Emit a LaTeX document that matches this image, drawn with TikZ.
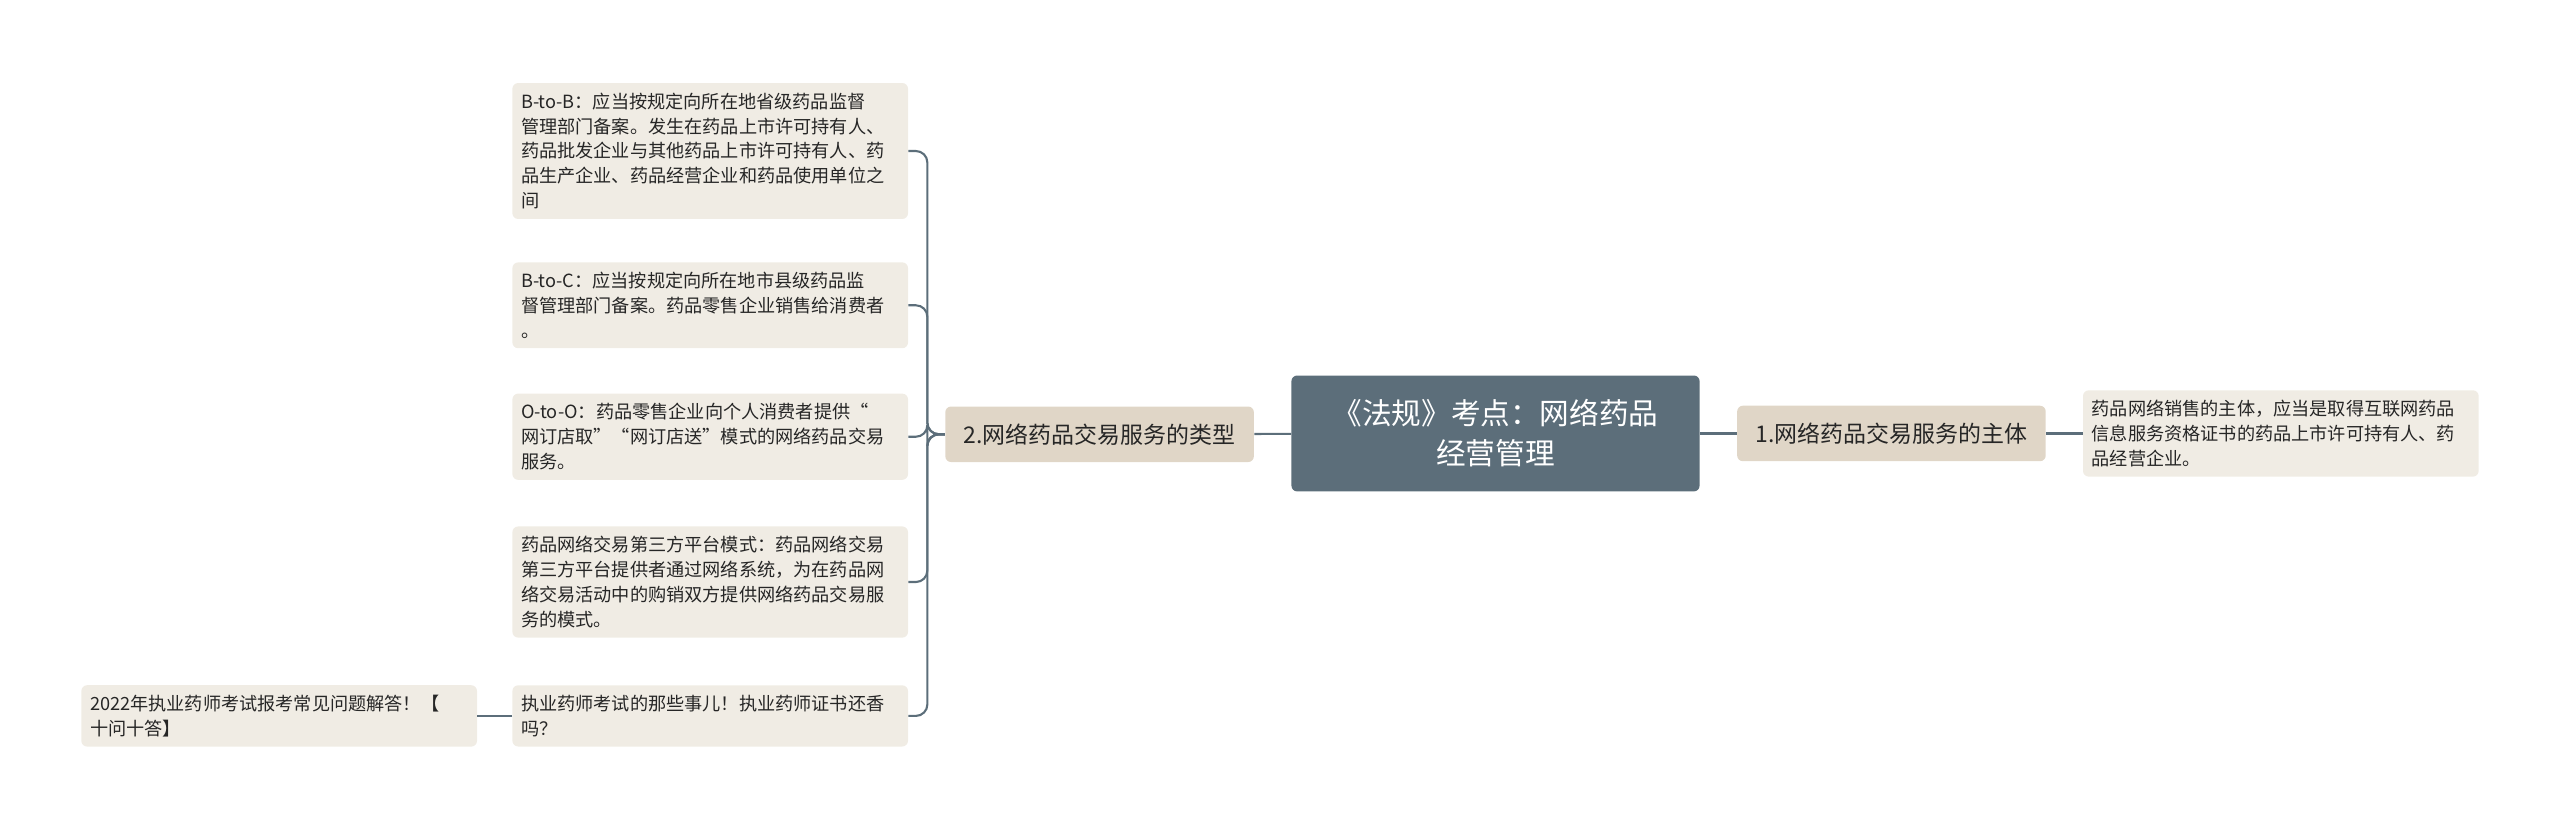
\documentclass[tikz,border=0pt]{standalone}
\usepackage{fontspec}
\setmainfont{Noto Sans CJK SC}
\begin{document}
\begin{tikzpicture}[
  leaf/.style={fill=leafc, rounded corners=3pt, align=left, text width=6.95cm, inner xsep=0.16cm, inner ysep=0.18cm, font=\fontsize{9.5}{13}\selectfont, text=black!85},
  lone/.style={fill=lonec, rounded corners=3pt, minimum width=5.67cm, minimum height=1.02cm, font=\fontsize{12}{15}\selectfont, text=black!85},
  line/.style={draw=linec, line width=1.1pt},
]
\definecolor{leafc}{HTML}{F0ECE4}
\definecolor{lonec}{HTML}{E0D6C7}
\definecolor{rootc}{HTML}{5C6E7A}
\definecolor{linec}{HTML}{5C6E7A}
\useasboundingbox (0,0) rectangle (47.04,15.27);
\node[fill=rootc, rounded corners=3pt, minimum width=7.5cm, minimum height=2.13cm, align=center, text=white, font=\fontsize{15.5}{21}\selectfont] (root) at (27.48,7.305) {《法规》考点：网络药品\\经营管理};
\node[lone] (r1) at (34.755,7.305) {1.网络药品交易服务的主体};
\node[leaf] (rl) at (41.91,7.305) {药品网络销售的主体，应当是取得互联网药品\\信息服务资格证书的药品上市许可持有人、药\\品经营企业。};
\node[lone] (l1) at (20.205,7.29) {2.网络药品交易服务的类型};
\node[leaf] (a) at (13.05,12.495) {B-to-B：应当按规定向所在地省级药品监督\\管理部门备案。发生在药品上市许可持有人、\\药品批发企业与其他药品上市许可持有人、药\\品生产企业、药品经营企业和药品使用单位之\\间};
\node[leaf] (b) at (13.05,9.66) {B-to-C：应当按规定向所在地市县级药品监\\督管理部门备案。药品零售企业销售给消费者\\。};
\node[leaf] (c) at (13.05,7.245) {O-to-O：药品零售企业向个人消费者提供“\\网订店取”“网订店送”模式的网络药品交易\\服务。};
\node[leaf] (d) at (13.05,4.575) {药品网络交易第三方平台模式：药品网络交易\\第三方平台提供者通过网络系统，为在药品网\\络交易活动中的购销双方提供网络药品交易服\\务的模式。};
\node[leaf] (e) at (13.05,2.115) {执业药师考试的那些事儿！执业药师证书还香\\吗？};
\node[leaf] (f) at (5.13,2.115) {2022年执业药师考试报考常见问题解答！【\\十问十答】};
\draw[line] (root) -- (r1);
\draw[line] (r1) -- (rl);
\draw[line] (root) -- (l1);
\coordinate (j) at (17.04,7.29);
\foreach \n in {a,b,c,d,e}
  \draw[line, rounded corners=6pt] (l1.west) -- (j) |- (\n.east);
\draw[line] (e) -- (f);
\end{tikzpicture}
\end{document}
